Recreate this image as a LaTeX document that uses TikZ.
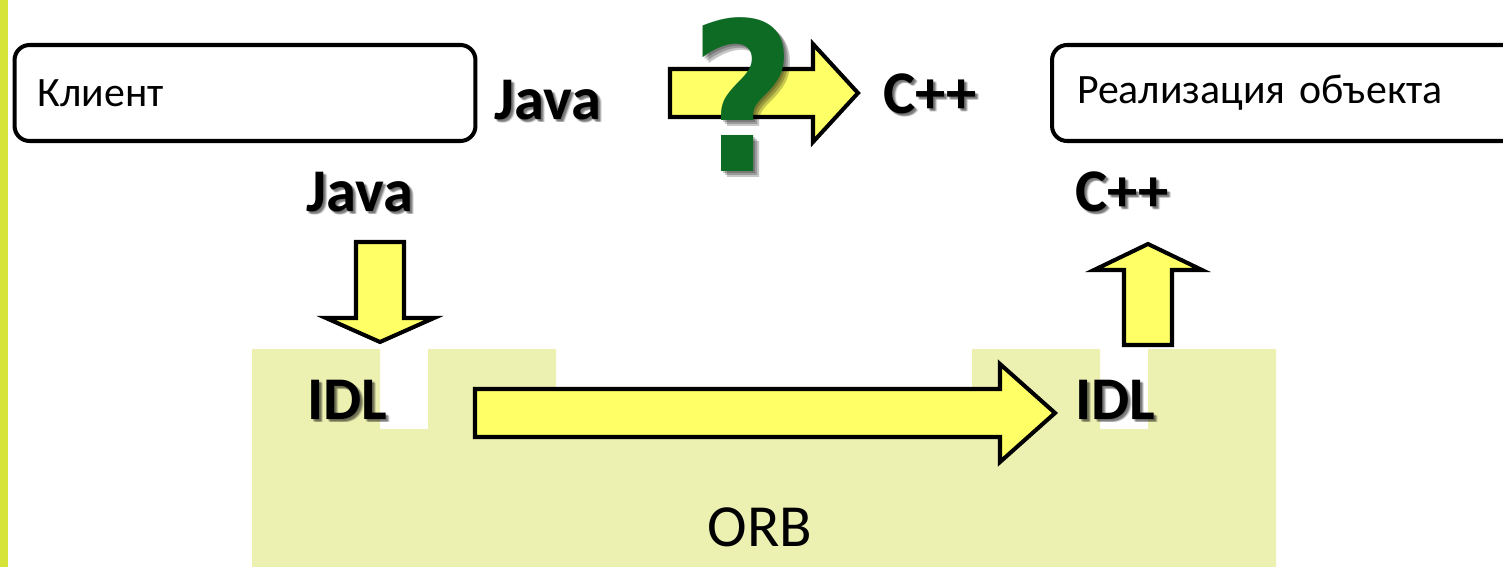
\documentclass[tikz,border=0pt]{standalone}
\usepackage{fontspec}
\setmainfont{Carlito}
\newfontfamily\askfont{DejaVu Sans}
\usetikzlibrary{positioning}

\definecolor{barlime}{RGB}{214,228,58}
\definecolor{orbfill}{RGB}{236,240,177}
\definecolor{arrowfill}{RGB}{255,255,102}
\definecolor{qgreen}{RGB}{14,107,36}

\begin{document}
\begin{tikzpicture}[
  x=0.02cm, y=-0.02cm,
  every node/.style={inner sep=0pt},
  obj/.style={draw, line width=2.3pt, rounded corners=0.3cm, minimum height=1.92cm,
    font=\fontsize{23.8}{28}\selectfont, align=left},
  lang/.style={font=\bfseries\fontsize{34.5}{40}\selectfont, anchor=base},
  soft/.style={text=black, opacity=0.13},
  ask/.style={font=\askfont\bfseries\fontsize{118}{118}\selectfont, anchor=base, xscale=0.88},
  fat/.style={draw, line width=2.3pt, fill=arrowfill, line join=miter}
]
  \clip (0,0) rectangle (1503,567);

  % side bar and ORB band with the two IDL slots
  \fill[barlime] (0,0) rectangle (8,567);
  \fill[orbfill] (252,349) -- (380,349) -- (380,429) -- (428,429) -- (428,349)
    -- (556,349) -- (556,390) -- (972,390) -- (972,349) -- (1100,349)
    -- (1100,429) -- (1148,429) -- (1148,349) -- (1276,349) -- (1276,567)
    -- (252,567) -- cycle;

  % client and servant boxes
  \node[obj, minimum width=9.22cm, text width=8.3cm] (client) at (245,93) {Клиент};
  \node[obj, minimum width=9.76cm, text width=8.76cm] (impl) at (1296,93) {Реализация объекта};

  % language labels, each with a soft shadow under it
  \foreach \dx/\dy in {1/1,2/2,3/3,2/3,3/2,4/3} {
    \node[lang, soft] at (548+\dx,120+\dy) {Java};
    \node[lang, soft] at (930+\dx,114+\dy) {C++};
    \node[lang, soft] at (360+\dx,212+\dy) {Java};
    \node[lang, soft] at (1122+\dx,212+\dy) {C++};
    \node[lang, soft] at (347+\dx,419+\dy) {IDL};
    \node[lang, soft] at (1115+\dx,419+\dy) {IDL};
  }
  \node[lang] (javaTop) at (548,120) {Java};
  \node[lang] (cppTop) at (930,114) {C++};
  \node[lang] (javaIn) at (360,212) {Java};
  \node[lang] (cppOut) at (1122,212) {C++};
  \node[lang] (idlLeft) at (347,419) {IDL};
  \node[lang] (idlRight) at (1115,419) {IDL};
  \node[font=\fontsize{34}{40}\selectfont, anchor=base] (orb) at (760,546) {ORB};

  % block arrows
  \draw[fat] (670,69) -- (813,69) -- (813,44) -- (858,93) -- (813,142)
    -- (813,117) -- (670,117) -- cycle;
  \draw[fat] (356,242) -- (404,242) -- (404,318) -- (434,318) -- (380,342)
    -- (326,318) -- (356,318) -- cycle;
  \draw[fat] (1124,345) -- (1124,270) -- (1094,270) -- (1148,244)
    -- (1202,270) -- (1172,270) -- (1172,345) -- cycle;
  \draw[fat] (475,389) -- (1000,389) -- (1000,364) -- (1055,413) -- (1000,462)
    -- (1000,437) -- (475,437) -- cycle;

  % big question mark over the direct Java -> C++ path
  \foreach \d in {2,4,6} {
    \node[ask, soft, opacity=0.22] at (743+\d,172+\d) {?};
  }
  \node[ask, text=qgreen] (askmark) at (743,172) {?};
\end{tikzpicture}
\end{document}
